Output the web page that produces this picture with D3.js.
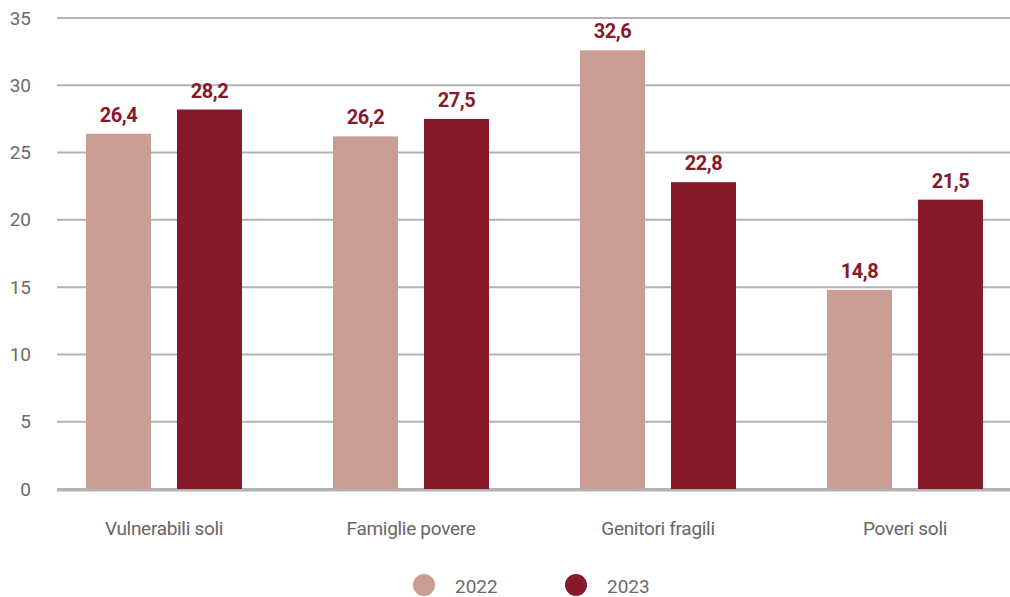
<!DOCTYPE html>
<html><head><meta charset="utf-8">
<script src="https://cdn.jsdelivr.net/npm/d3@7"></script>
<style>body{margin:0;background:#fff;}svg{display:block;font-family:Roboto,sans-serif;}</style>
</head><body><svg id="c" width="1010" height="597"></svg>
<script>
const categories = ["Vulnerabili soli","Famiglie povere","Genitori fragili","Poveri soli"];
const series = ["2022","2023"];
const values2022 = [26.4, 26.2, 32.6, 14.8];
const values2023 = [28.2, 27.5, 22.8, 21.5];
const yTicks = [0,5,10,15,20,25,30,35];
const colors = ["#C99C94","#861A2A"];

const svg = d3.select("#c");
const y = d3.scaleLinear().domain([0,35]).range([489,18]);
const x = d3.scaleBand().domain(categories).range([40.5,1028.5]).padding(0);

// gridlines
svg.append("g").selectAll("line").data(yTicks).join("line")
  .attr("x1",57).attr("x2",1010)
  .attr("y1",d=>y(d)).attr("y2",d=>y(d))
  .attr("stroke","#b3b3b3").attr("stroke-width",2);

svg.append("g").selectAll("text").data(yTicks).join("text")
  .attr("x",31).attr("y",d=>y(d)+6.5)
  .attr("text-anchor","end").attr("font-size",19).attr("fill","#6b6b6b")
  .text(d=>d);

const data = categories.map((c,i)=>({c, v:[values2022[i], values2023[i]]}));
const fmt = v => d3.format(".1f")(v).replace(".",",");

const bw = 65;
const g = svg.append("g");
data.forEach(d=>{
  const cx = x(d.c) + x.bandwidth()/2;
  series.forEach((s,j)=>{
    const x0 = cx + (j===0 ? -78 : 13);
    g.append("rect").attr("x",x0).attr("width",bw)
      .attr("y",y(d.v[j])).attr("height",y(0)-y(d.v[j]))
      .attr("fill",colors[j]);
    g.append("text").attr("x",x0+bw/2).attr("y",y(d.v[j])-12)
      .attr("text-anchor","middle").attr("font-size",20).attr("font-weight","bold")
      .attr("letter-spacing",-0.4)
      .attr("fill","#861A2A").text(fmt(d.v[j]));
  });
});

// baseline
svg.append("line").attr("x1",57).attr("x2",1010).attr("y1",490.5).attr("y2",490.5)
  .attr("stroke","#b3b3b3").attr("stroke-width",2);

svg.append("g").selectAll("text").data(categories).join("text")
  .attr("x",d=>x(d)+x.bandwidth()/2).attr("y",535)
  .attr("text-anchor","middle").attr("font-size",19).attr("fill","#666")
  .attr("letter-spacing",-0.3)
  .text(d=>d);

// legend
const lg = svg.append("g");
const lx = [424, 576];
series.forEach((s,j)=>{
  lg.append("circle").attr("cx",lx[j]).attr("cy",585).attr("r",11).attr("fill",colors[j]);
  lg.append("text").attr("x",lx[j]+31).attr("y",593).attr("font-size",19).attr("fill","#6b6b6b").text(s);
});
</script></body></html>
